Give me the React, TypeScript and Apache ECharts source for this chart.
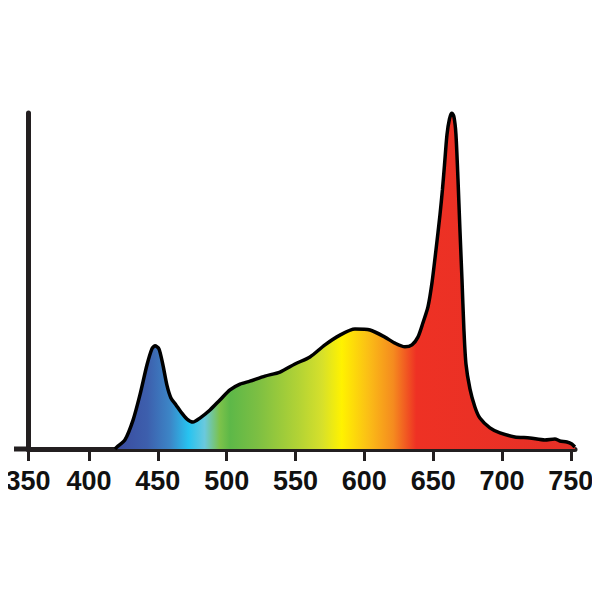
import React, { useEffect, useRef } from "react";
import * as echarts from "echarts";

// Wavelength (nm) of each sampled point on the spectrum curve
const wavelengths = [
  418.9, 420.3, 426.1, 432.0, 437.0, 442.1, 445.7, 447.9, 450.8, 453.7,
  456.6, 459.5, 463.2, 466.8, 471.2, 475.5, 480.6, 487.9, 495.1, 502.4,
  509.7, 516.9, 527.8, 538.7, 549.6, 560.5, 571.4, 582.3, 593.2, 604.1,
  614.9, 622.2, 629.5, 634.6, 638.9, 642.5, 646.2, 649.1, 652.0, 654.9,
  656.7, 658.2, 660.0, 661.8, 663.6, 665.1, 666.5, 668.0, 669.4, 670.9,
  672.3, 673.8, 676.7, 680.3, 683.9, 691.2, 698.5, 709.3, 720.2, 731.1,
  738.4, 742.0, 747.1, 750.7, 752.9,
];
// Relative intensity (%)
const intensity = [
  0, 0.6, 2.7, 8.6, 16.1, 25.0, 29.8, 30.7, 29.8, 25.0,
  19.0, 15.2, 13.1, 11.0, 8.9, 8.0, 9.2, 11.6, 14.6, 17.6,
  19.3, 20.2, 21.7, 22.9, 25.3, 27.4, 31.0, 33.9, 35.7, 35.4,
  33.3, 31.5, 30.4, 31.0, 33.3, 37.5, 42.3, 49.4, 59.2, 69.6,
  77.1, 84.5, 93.5, 98.2, 100, 98.8, 93.8, 80.4, 65.5, 50.6,
  35.7, 25.3, 17.9, 12.5, 9.2, 6.3, 4.8, 3.6, 3.3, 2.7,
  3.0, 2.4, 2.1, 1.5, 0.6,
];
// Tick values and labels on the wavelength axis
const tickValues = [350, 400, 450, 500, 550, 600, 650, 700, 750];
const tickLabels = ["350", "400", "450", "500", "550", "600", "650", "700", "750"];

const AXIS_MIN = 355.7; // the first tick ("350") sits at the axis start in the drawing
const AXIS_MAX = 753;

export default function App() {
  const ref = useRef<HTMLDivElement>(null);
  useEffect(() => {
    if (!ref.current) return;
    const chart = echarts.init(ref.current, undefined, { renderer: "svg" });
    const tickPos = tickValues.map((v) => (v < AXIS_MIN ? AXIS_MIN : v));
    const labelFor = (v: number) => {
      const i = tickPos.findIndex((p) => Math.abs(p - v) < 0.01);
      return i >= 0 ? tickLabels[i] : "";
    };
    const gradient = new echarts.graphic.LinearGradient(0, 0, 1, 0, [
      { offset: 0, color: "#3a4a9e" },
      { offset: 0.07, color: "#3d5fad" },
      { offset: 0.12, color: "#3c86c7" },
      { offset: 0.16, color: "#27c3f0" },
      { offset: 0.195, color: "#6ac9dd" },
      { offset: 0.228, color: "#7cc24a" },
      { offset: 0.25, color: "#5db848" },
      { offset: 0.31, color: "#7cbf43" },
      { offset: 0.40, color: "#b3d335" },
      { offset: 0.45, color: "#d6e02b" },
      { offset: 0.493, color: "#fff200" },
      { offset: 0.55, color: "#fbbf16" },
      { offset: 0.605, color: "#f58b1f" },
      { offset: 0.655, color: "#ee3124" },
      { offset: 1, color: "#e53027" },
    ]);
    chart.setOption({
      animation: false,
      grid: { left: 28, right: 25, top: 113, bottom: 151 },
      xAxis: {
        type: "value",
        min: AXIS_MIN,
        max: AXIS_MAX,
        splitLine: { show: false },
        axisLine: { show: true, lineStyle: { color: "#231f20", width: 5 } },
        axisTick: {
          show: true,
          customValues: tickPos,
          length: 12,
          lineStyle: { color: "#231f20", width: 3 },
        },
        axisLabel: {
          customValues: tickPos,
          formatter: (v: number) => labelFor(v),
          color: "#111111",
          fontFamily: "Liberation Sans",
          fontWeight: "bold",
          fontSize: 27,
          margin: 18,
        },
      },
      yAxis: {
        type: "value",
        min: 0,
        max: 100,
        splitLine: { show: false },
        axisTick: { show: false },
        axisLabel: { show: false },
        axisLine: { show: true, lineStyle: { color: "#231f20", width: 5, cap: "round" } },
      },
      graphic: [
        {
          type: "line",
          shape: { x1: 14, y1: 449, x2: 30, y2: 449 },
          style: { stroke: "#231f20", lineWidth: 5 },
          z: 0,
        },
      ],
      series: [
        {
          type: "line",
          data: wavelengths.map((w, i) => [w, intensity[i]]),
          smooth: 0.25,
          showSymbol: false,
          lineStyle: { color: "#000000", width: 3.5 },
          areaStyle: { color: gradient, opacity: 1 },
          z: 3,
        },
      ],
    });
    return () => chart.dispose();
  }, []);
  return <div ref={ref} style={{ width: 600, height: 600, margin: -8 }} />;
}
